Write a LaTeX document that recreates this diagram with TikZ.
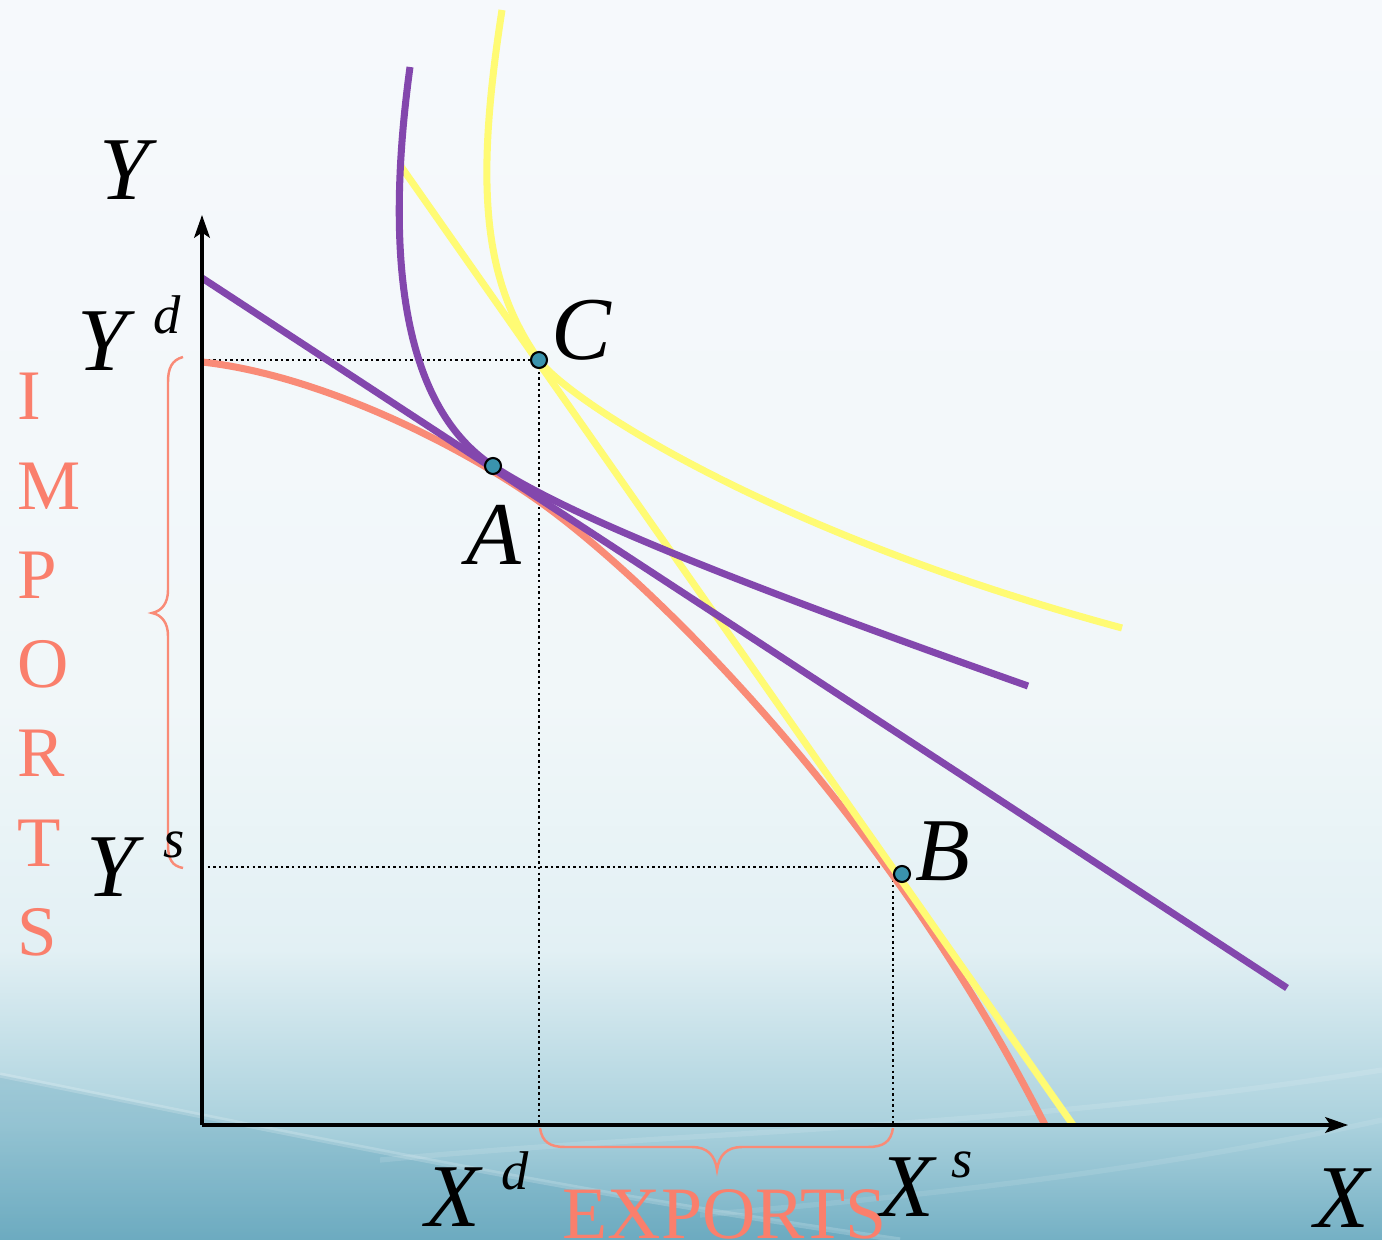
\documentclass[tikz,border=0pt]{standalone}
\usepackage{fontspec}
\setmainfont{Liberation Serif}
\usetikzlibrary{arrows.meta}
\definecolor{ppur}{HTML}{8347AD}
\definecolor{pyel}{HTML}{FFFB74}
\definecolor{psal}{HTML}{F98B77}
\definecolor{ptxt}{HTML}{FA7F6C}
\definecolor{pdot}{HTML}{3A93AD}
\definecolor{bgA}{HTML}{F6F9FC}
\definecolor{bgB}{HTML}{F1F7F9}
\definecolor{bgC}{HTML}{E2F0F4}
\definecolor{bgD}{HTML}{AAD1DD}
\definecolor{bgE}{HTML}{74B0C4}
\definecolor{bgF}{HTML}{5A9FB7}
\tikzset{
  curve/.style={line width=2pt},
  axis/.style={line width=0.9pt, -{Stealth[length=6.5pt,width=4.5pt,inset=1.5pt]}},
  guide/.style={line width=0.5pt, dash pattern=on 0.7pt off 0.9pt},
  bracepath/.style={draw=psal, line width=0.7pt},
  pt/.style={circle, fill=pdot, draw=black, line width=0.6pt, minimum size=0.16cm, inner sep=0},
  lab/.style={font=\fontsize{25.5}{30}\selectfont\itshape, inner sep=0, anchor=base},
  suplab/.style={font=\fontsize{15.5}{18}\selectfont\itshape, inner sep=0, anchor=base},
  imp/.style={text=ptxt, font=\fontsize{20.2}{24}\selectfont, inner sep=0, anchor=base west},
  streak/.style={white, line width=1.5pt, opacity=0.18},
}
\begin{document}
\begin{tikzpicture}[x=0.01cm,y=-0.01cm]
\useasboundingbox (0,0) rectangle (1382,1240);
% background
\fill[top color=bgA, bottom color=bgB, draw=none] (0,0) rectangle (1382,701);
\fill[top color=bgB, bottom color=bgC, draw=none] (0,700) rectangle (1382,951);
\fill[top color=bgC, bottom color=bgD, draw=none] (0,950) rectangle (1382,1126);
\fill[top color=bgD, bottom color=bgE, draw=none] (0,1125) rectangle (1382,1240);
\fill[bgF, opacity=0.28]
  (0,1075) .. controls (250,1125) and (550,1190) .. (900,1240) -- (0,1240) -- cycle;
\draw[streak] (0,1075) .. controls (250,1125) and (550,1190) .. (900,1240);
\draw[streak, opacity=0.12] (380,1160) .. controls (700,1130) and (1000,1130) .. (1382,1070);
\draw[streak, opacity=0.1] (700,1215) .. controls (1000,1190) and (1200,1160) .. (1382,1120);

% key coordinates
\coordinate (O) at (202,1125);
\coordinate (Ytip) at (202,215);
\coordinate (Xtip) at (1348,1125);
\coordinate (Cy) at (202,360);
\coordinate (Cx) at (539,1125);
\coordinate (Bc) at (893,867);
\coordinate (By) at (202,867);
\coordinate (Bx) at (893,1125);

% guides
\draw[guide] (Cy) -- (539,360) -- (Cx);
\draw[guide] (By) -- (Bc) -- (Bx);

% braces
\draw[bracepath] (183,357) .. controls (172,360) and (168,368) .. (168,382) -- (168,590)
  .. controls (168,603) and (162,611) .. (152,613)
  .. controls (162,615) and (168,623) .. (168,636) -- (168,845)
  .. controls (168,859) and (172,866) .. (183,868);
\draw[bracepath] (540,1128) .. controls (542,1142) and (550,1147) .. (565,1147) -- (692,1147)
  .. controls (707,1147) and (715,1155) .. (717,1170)
  .. controls (719,1155) and (727,1147) .. (742,1147) -- (868,1147)
  .. controls (883,1147) and (891,1142) .. (893,1128);

% salmon PPF
\draw[curve, psal] (202,362) .. controls (320,375) and (460,445) .. (540,502)
  .. controls (640,573) and (880,800) .. (1045,1125);
% yellow line and curve
\draw[curve, pyel] (400,165) -- (1073,1125);
\draw[curve, pyel] (502,10) .. controls (474,190) and (484,282) .. (539,360)
  .. controls (564,396) and (760,530) .. (1122,628);
% purple line and curve
\draw[curve, ppur] (202,278) -- (1287,988);
\draw[curve, ppur] (410,67) .. controls (385,250) and (400,405) .. (493,466)
  .. controls (560,510) and (700,570) .. (1028,686);

% axes
\draw[axis] (O) -- (Ytip);
\draw[axis] (O) -- (Xtip);

% points
\node[pt] (C) at (539,360) {};
\node[pt] (A) at (493,466) {};
\node[pt] (B) at (902,874) {};

% labels
\node[lab] (lY) at (124,200) {Y};
\node[lab] (lYd) at (102,371) {Y};
\node[suplab] (lYdd) at (167,334) {d};
\node[lab] (lYs) at (111,896) {Y};
\node[suplab] (lYss) at (174,857) {s};
\node[lab] (lC) at (581,360) {C};
\node[lab] (lA) at (494,565) {A};
\node[lab] (lB) at (943,880) {B};
\node[lab] (lXd) at (453,1226) {X};
\node[suplab] (lXdd) at (515,1189) {d};
\node[lab] (lXs) at (907,1216) {X};
\node[suplab] (lXss) at (962,1177) {s};
\node[lab] (lX) at (1342,1227) {X};

% IMPORTS / EXPORTS
\foreach \L [count=\k from 0] in {I,M,P,O,R,T,S}
  \node[imp] (imp\k) at (17,{420+89.2*\k}) {\L};
\node[text=ptxt, font=\fontsize{21}{25}\selectfont, inner sep=0, anchor=base west] (exp) at (562,1238) {EXPORTS};
\end{tikzpicture}
\end{document}
